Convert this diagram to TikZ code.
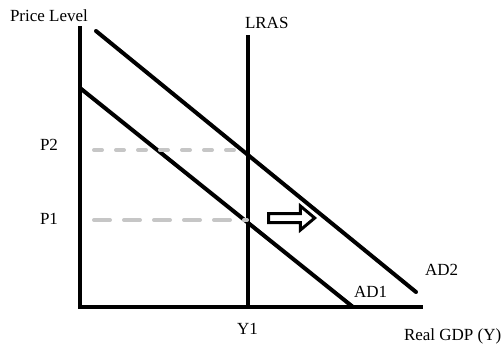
\documentclass[tikz,border=0pt]{standalone}
\usepackage{fontspec}
\setmainfont{Liberation Serif}
\usetikzlibrary{shapes.arrows}

\begin{document}
\begin{tikzpicture}[x=1pt,y=-1pt,line width=4pt,
  lbl/.style={font=\fontsize{17}{19}\selectfont,inner sep=0pt},
  guide/.style={gray!45,line cap=round}]
  \useasboundingbox (0,0) rectangle (503,346);
  % axes and LRAS
  \draw (80,26) -- (80,307) -- (423,307);
  \draw (248,35) -- (248,307);
  % demand curves
  \draw[line cap=round] (96,31) -- (416,292);
  \draw[line cap=round] (80,88) -- (353,307);
  % price guides
  \draw[guide,dash pattern=on 8pt off 14pt] (94,150) -- (247,150);
  \draw[guide,dash pattern=on 16pt off 14pt] (94,220) -- (247,220);
  % shift arrow
  \node[single arrow,draw,line width=3pt,inner sep=3pt,minimum height=46pt,
        single arrow head extend=7.5pt,single arrow tip angle=80] (shift) at (289,218) {};
  % labels
  \node[lbl,anchor=base west] (plevel) at (8,21) {Price Level};
  \node[lbl,anchor=base west] (lras) at (243,28) {LRAS};
  \node[lbl,anchor=base west] (p2) at (38,150) {P2};
  \node[lbl,anchor=base west] (p1) at (38,224) {P1};
  \node[lbl,anchor=base west] (y1) at (235,334) {Y1};
  \node[lbl,anchor=base west] (gdp) at (402,340) {Real GDP (Y)};
  \node[lbl,anchor=base west] (ad2) at (423,275) {AD2};
  \node[lbl,anchor=base west] (ad1) at (352,297) {AD1};
\end{tikzpicture}
\end{document}
